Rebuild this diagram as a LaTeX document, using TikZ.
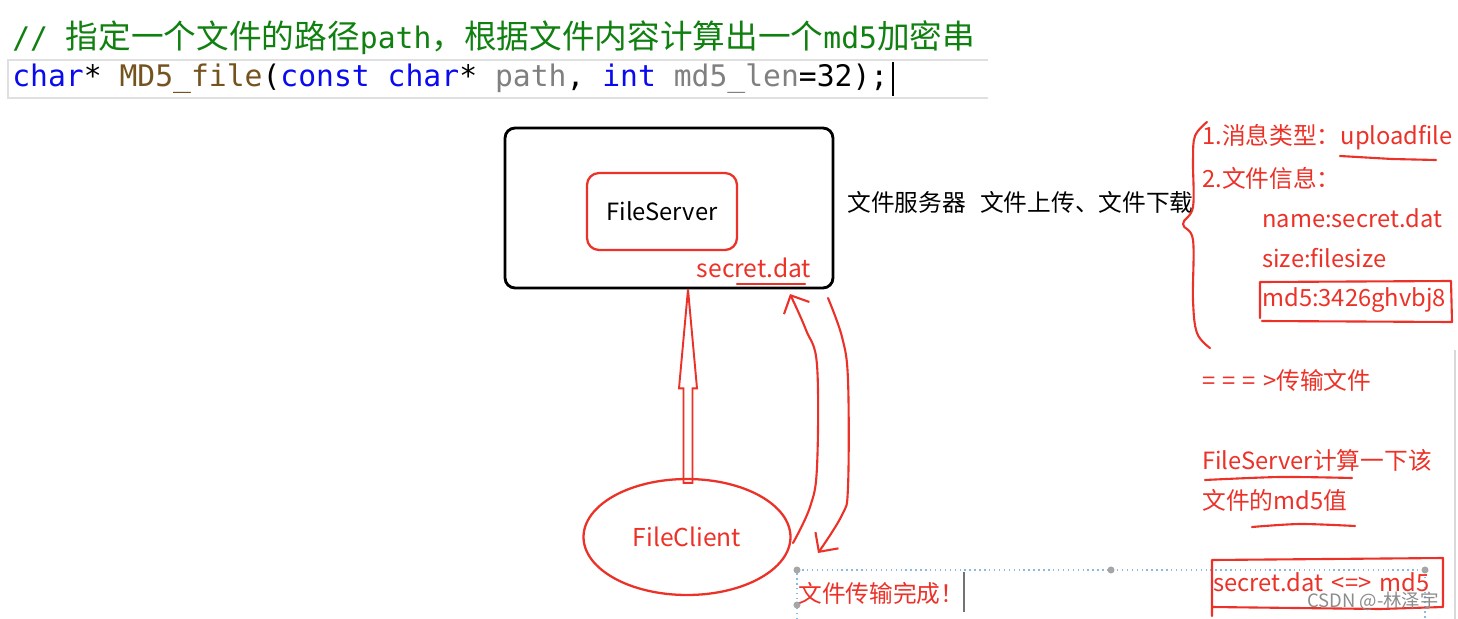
\documentclass[tikz,border=0pt]{standalone}
\usepackage{fontspec}
\setmainfont{Noto Sans CJK SC}
\setmonofont{DejaVu Sans Mono}
\newfontfamily\codecjk{Noto Sans CJK SC}[Scale=1.10]
\usetikzlibrary{
  arrows.meta,
  shapes.geometric,
  positioning,
  calc
}
\definecolor{xred}{RGB}{236,50,40}
\definecolor{xgreen}{RGB}{16,128,16}
\definecolor{xblue}{RGB}{10,10,240}
\definecolor{xbrown}{RGB}{116,83,31}
\definecolor{xgray}{RGB}{128,128,128}
\definecolor{xsel}{RGB}{140,185,225}

\begin{document}
\begin{tikzpicture}[
  x=0.02cm, y=-0.02cm,
  code/.style={anchor=west, inner sep=0pt, font=\fontsize{16.9}{20}\selectfont\ttfamily},
  codeframe/.style={draw=black!12, line width=1.2pt},
  srvbox/.style={draw=black, line width=1.6pt, rounded corners=0.2cm,
                 minimum width=6.56cm, minimum height=3.2cm},
  redbox/.style={draw=xred, line width=1.3pt, rounded corners=0.24cm,
                 minimum width=3cm, minimum height=1.54cm,
                 font=\fontsize{13.5}{16}\selectfont},
  client/.style={draw=xred, line width=1.3pt, ellipse,
                 minimum width=4.14cm, minimum height=2.32cm,
                 text=xred, font=\fontsize{14}{16}\selectfont},
  redtxt/.style={anchor=west, inner sep=0pt, text=xred, font=\fontsize{13.5}{16}\selectfont},
  blacktxt/.style={anchor=west, inner sep=0pt, font=\fontsize{13.5}{16}\selectfont},
  redline/.style={draw=xred, line width=1.2pt, line cap=round, line join=round},
  handarr/.style={redline, -{Straight Barb[length=8pt,width=16pt]}},
  sel/.style={draw=xsel, dotted, line width=0.8pt},
  handle/.style={circle, fill=black!35, inner sep=0pt, minimum size=4pt}
]
  \useasboundingbox[fill=white] (0,0) rectangle (1458,619);

  % code snippet
  \draw[codeframe] (988,60) -- (8,60) -- (8,98) -- (988,98);
  \node[code, text=xgreen] (comment) at (12,38)
    {// {\codecjk 指定一个文件的路径}path{\codecjk ，根据文件内容计算出一个}md5{\codecjk 加密串}};
  \node[code] (proto) at (12,79)
    {{\color{xblue}char}* {\color{xbrown}MD5\_file}({\color{xblue}const char}* {\color{xgray}path}, {\color{xblue}int} {\color{xgray}md5\_len}=32);};
  \draw[black, line width=0.9pt] (893,62) -- (893,96);

  % server and client
  \node[srvbox] (server) at (669,208) {};
  \node[redbox] (fs) at (662,211.5) {FileServer};
  \node[redtxt, anchor=center, font=\fontsize{14}{16}\selectfont] (secret) at (754,268) {secret.dat};
  \draw[redline] (737,284) -- (805,284);
  \node[blacktxt] (desc) at (847,202) {文件服务器\hspace{0.6em}文件上传、文件下载};

  \node[client] (client) at (687,537) {FileClient};

  \coordinate (base) at ($(client.north)+(1,5)$);
  \coordinate (tip) at (base |- server.south);
  \draw[redline, line width=1.1pt, line join=miter]
    ($(base)+(-4.5,0)$) |- ($(tip)+(-9,99)$) -- (tip) -- ($(tip)+(9,99)$) -| ($(base)+(4.5,0)$) -- cycle;

  \draw[handarr] plot[smooth, tension=0.6] coordinates
    {(793,543) (810,507) (817,467) (817,365) (806,330) (790,294)};
  \draw[handarr] plot[smooth, tension=0.6] coordinates
    {(828,298) (842,337) (848,380) (848,487) (842,515) (818,553)};

  % message
  \draw[redline] plot[smooth, tension=0.6] coordinates
    {(1207,122) (1195,136) (1193,160) (1193,207) (1183,224) (1193,240) (1193,300) (1197,333) (1210,348)};
  \node[redtxt] (msgtype) at (1202,137) {1.消息类型：uploadfile};
  \draw[redline] (1340,156) -- (1392,159) -- (1436,160);
  \node[redtxt] (fileinfo) at (1202,178) {2.文件信息：};
  \node[redtxt] (fname) at (1262,218) {name:secret.dat};
  \node[redtxt] (fsize) at (1262,258) {size:filesize};
  \node[redtxt] (fmd5) at (1262,300) {md5:3426ghvbj8};
  \draw[redline] (1260,318) -- (1260,282) -- (1451,281) -- (1452,322) -- (1262,321);

  \node[redtxt] (send) at (1202,380) {=\hspace{0.3em}=\hspace{0.3em}=\hspace{0.3em}>传输文件};
  \node[redtxt] (calc1) at (1202,460) {FileServer计算一下该};
  \draw[redline] plot[smooth] coordinates {(1205,480) (1280,477) (1352,478)};
  \node[redtxt] (calc2) at (1202,500) {文件的md5值};
  \draw[redline] plot[smooth] coordinates {(1252,527) (1300,524) (1355,526)};

  % selection box with text
  \draw[sel] (797,619) -- (797,570) -- (1425,570) -- (1425,619);
  \foreach \p in {(797,570),(1111,570),(1425,570),(797,605)}
    \node[handle] at \p {};
  \node[redtxt] (done) at (798,593) {文件传输完成！};
  \draw[black!55, line width=0.9pt] (964,572) -- (964,612);

  \node[redtxt] (cmp) at (1213,582) {secret.dat\hspace{0.35em}<=>\hspace{0.35em}md5};
  \draw[redline] (1212,616) -- (1212,560) -- (1443,558) -- (1443,607) -- (1380,609) -- (1212,607);
  \node[text=black!45, font=\fontsize{10.5}{12}\selectfont] (mark) at (1373,601) {CSDN @-林泽宇};
  \draw[black!15, line width=1pt] (1455,350) -- (1455,619);
\end{tikzpicture}
\end{document}
